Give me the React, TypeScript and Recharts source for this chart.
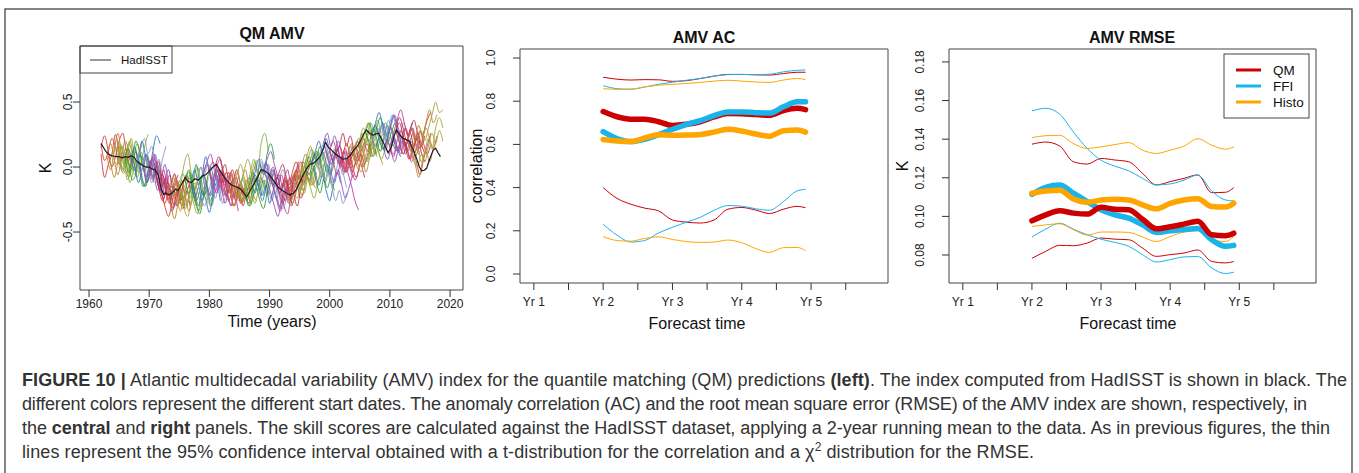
import { LineChart, Line, XAxis, YAxis, ReferenceArea } from 'recharts';

const FONT = "'Liberation Sans', Arial, Helvetica, sans-serif";

// ---- left panel: HadISST AMV index ----
const hadYears = [
  1962.0, 1962.4, 1962.8, 1963.2, 1963.6, 1964.0, 1964.5, 1965.0, 1965.5, 1966.0, 1966.5, 1967.0,
  1967.5, 1968.0, 1968.5, 1969.0, 1969.5, 1970.0, 1970.5, 1971.0, 1971.5, 1972.0, 1972.4, 1972.8,
  1973.2, 1973.8, 1974.4, 1974.8, 1975.4, 1976.0, 1976.4, 1977.0, 1977.6, 1978.2, 1978.8, 1979.4,
  1980.0, 1980.6, 1981.2, 1981.8, 1982.5, 1983.2, 1983.8, 1984.3, 1984.9, 1985.4, 1986.2, 1986.8,
  1987.4, 1988.0, 1988.6, 1989.2, 1989.8, 1990.3, 1990.9, 1991.5, 1992.1, 1992.8, 1993.4, 1994.0,
  1994.5, 1995.0, 1995.6, 1996.2, 1996.7, 1997.3, 1997.8, 1998.4, 1998.9, 1999.3, 1999.8, 2000.3,
  2000.9, 2001.6, 2002.2, 2002.8, 2003.4, 2004.0, 2004.6, 2005.2, 2005.7, 2006.1, 2006.6, 2007.2,
  2007.7, 2008.1, 2008.7, 2009.2, 2009.7, 2010.2, 2010.7, 2011.1, 2011.6, 2012.2, 2012.8, 2013.3,
  2013.9, 2014.4, 2014.9, 2015.3, 2015.7, 2016.1, 2016.6, 2017.2, 2017.6, 2018.0, 2018.4,
];
const hadValues = [
  0.18, 0.15, 0.12, 0.1, 0.09, 0.085, 0.08, 0.08, 0.07, 0.08, 0.075, 0.085,
  0.075, 0.04, 0.025, 0.01, 0.0, 0.0, -0.015, -0.02, -0.06, -0.17, -0.21, -0.2,
  -0.215, -0.2, -0.17, -0.18, -0.13, -0.08, -0.11, -0.12, -0.09, -0.1, -0.07, -0.06,
  -0.03, 0.0, 0.02, -0.03, -0.08, -0.12, -0.14, -0.15, -0.16, -0.18, -0.23, -0.18,
  -0.13, -0.08, -0.02, -0.03, -0.05, -0.08, -0.12, -0.16, -0.18, -0.2, -0.215, -0.2,
  -0.17, -0.12, -0.06, -0.01, 0.02, 0.03, 0.05, 0.08, 0.14, 0.19, 0.15, 0.13,
  0.1, 0.08, 0.06, 0.065, 0.09, 0.13, 0.16, 0.21, 0.26, 0.285, 0.26, 0.245,
  0.255, 0.26, 0.21, 0.16, 0.11, 0.15, 0.24, 0.285, 0.25, 0.22, 0.21, 0.195,
  0.13, 0.07, 0.0, -0.03, -0.025, -0.01, 0.06, 0.13, 0.145, 0.11, 0.08,
];

// QM predictions: one start date per year, three members, values every 0.6 yr of lead time
const startYears = [
  1962, 1963, 1964, 1965, 1966, 1967, 1968, 1969, 1970, 1971, 1972, 1973, 1974, 1975, 1976, 1977, 1978, 1979,
  1980, 1981, 1982, 1983, 1984, 1985, 1986, 1987, 1988, 1989, 1990, 1991, 1992, 1993, 1994, 1995, 1996, 1997,
  1998, 1999, 2000, 2001, 2002, 2003, 2004, 2005, 2006, 2007, 2008, 2009, 2010, 2011, 2012, 2013, 2014,
];
const leadYears = [0, 0.6, 1.2, 1.8, 2.4, 3.0, 3.6, 4.2, 4.8];
const memberA = [
  [0.18, 0.05, 0.12, 0.22, 0.15, 0.02, 0.08, 0.14, 0.05],
  [0.1, 0.18, 0.05, -0.06, 0.08, 0.2, 0.12, -0.02, 0.06],
  [0.08, 0.15, 0.0, -0.05, 0.1, 0.22, 0.06, -0.04, 0.08],
  [0.08, 0.0, 0.12, 0.2, 0.05, -0.08, 0.02, 0.15, 0.25],
  [0.08, 0.02, -0.1, -0.05, 0.1, 0.04, -0.12, -0.05, 0.06],
  [0.08, 0.15, 0.05, 0.2, 0.08, -0.02, 0.12, 0.24, 0.18],
  [0.04, -0.05, 0.08, 0.0, -0.12, -0.05, 0.06, -0.08, -0.2],
  [0.01, -0.08, 0.04, -0.06, -0.18, -0.1, 0.02, -0.12, -0.22],
  [-0.01, -0.1, 0.0, -0.15, -0.25, -0.12, -0.2, -0.3, -0.18],
  [-0.03, -0.12, -0.05, -0.2, -0.28, -0.15, -0.3, -0.22, -0.1],
  [-0.18, -0.1, -0.25, -0.18, -0.08, -0.22, -0.32, -0.2, -0.12],
  [-0.21, -0.3, -0.4, -0.28, -0.2, -0.32, -0.22, -0.12, -0.25],
  [-0.2, -0.1, -0.18, -0.32, -0.38, -0.25, -0.12, -0.22, -0.3],
  [-0.14, -0.22, -0.3, -0.18, -0.28, -0.36, -0.24, -0.15, -0.28],
  [-0.1, -0.2, -0.12, -0.26, -0.18, -0.05, -0.15, -0.3, -0.2],
  [-0.12, -0.2, -0.3, -0.18, -0.25, -0.35, -0.22, -0.12, -0.26],
  [-0.1, -0.18, -0.06, 0.02, -0.1, -0.24, -0.15, -0.28, -0.2],
  [-0.05, -0.14, -0.22, -0.12, -0.02, -0.16, -0.28, -0.18, -0.1],
  [-0.03, 0.04, -0.06, -0.16, -0.08, -0.2, -0.3, -0.18, -0.26],
  [0.02, -0.06, -0.15, -0.22, -0.12, -0.24, -0.16, -0.28, -0.18],
  [-0.06, -0.14, -0.04, -0.16, -0.26, -0.14, -0.22, -0.1, -0.18],
  [-0.12, -0.04, -0.14, -0.24, -0.1, -0.02, -0.14, -0.06, 0.05],
  [-0.15, -0.06, 0.02, -0.08, -0.18, -0.06, 0.04, -0.1, -0.02],
  [-0.17, -0.08, -0.18, -0.04, 0.06, -0.04, 0.18, 0.26, 0.12],
  [-0.22, -0.14, -0.04, -0.12, 0.02, -0.06, 0.1, 0.18, 0.06],
  [-0.13, -0.04, 0.06, -0.04, 0.04, -0.1, -0.02, -0.14, -0.22],
  [-0.03, -0.12, -0.04, -0.16, -0.26, -0.14, -0.3, -0.22, -0.12],
  [-0.03, -0.1, -0.2, -0.3, -0.38, -0.26, -0.16, -0.26, -0.12],
  [-0.06, -0.14, -0.06, -0.18, -0.3, -0.36, -0.22, -0.12, -0.02],
  [-0.12, -0.2, -0.28, -0.18, -0.08, -0.2, -0.3, -0.16, -0.04],
  [-0.18, -0.26, -0.16, -0.28, -0.18, -0.06, -0.14, -0.02, 0.06],
  [-0.21, -0.14, -0.04, -0.1, 0.02, 0.1, 0.02, 0.12, 0.04],
  [-0.17, -0.08, 0.02, -0.06, 0.06, 0.14, 0.06, -0.02, 0.08],
  [-0.12, -0.04, 0.06, 0.0, 0.1, 0.02, -0.08, 0.04, 0.12],
  [0.0, 0.08, -0.02, 0.06, 0.16, 0.06, -0.04, 0.06, 0.14],
  [0.04, -0.04, -0.14, -0.06, -0.18, -0.26, -0.14, -0.04, -0.12],
  [0.05, 0.14, 0.2, 0.1, 0.02, 0.12, 0.04, -0.06, 0.02],
  [0.19, 0.1, 0.02, 0.1, 0.2, 0.12, 0.02, 0.08, 0.16],
  [0.12, 0.2, 0.1, 0.0, 0.08, -0.04, -0.14, -0.26, -0.33],
  [0.1, 0.02, 0.1, 0.18, 0.08, 0.0, 0.08, 0.02, -0.08],
  [0.07, 0.14, 0.04, -0.04, 0.06, 0.14, 0.22, 0.12, 0.2],
  [0.09, 0.02, 0.12, 0.22, 0.14, 0.04, 0.12, 0.22, 0.28],
  [0.13, 0.2, 0.1, 0.18, 0.28, 0.2, 0.1, 0.18, 0.26],
  [0.21, 0.3, 0.22, 0.12, 0.2, 0.3, 0.2, 0.12, 0.22],
  [0.27, 0.34, 0.24, 0.3, 0.38, 0.28, 0.18, 0.26, 0.34],
  [0.25, 0.16, 0.24, 0.34, 0.26, 0.16, 0.24, 0.14, 0.08],
  [0.25, 0.18, 0.28, 0.36, 0.26, 0.18, 0.12, 0.22, 0.14],
  [0.13, 0.22, 0.32, 0.4, 0.3, 0.22, 0.3, 0.2, 0.12],
  [0.16, 0.26, 0.36, 0.44, 0.34, 0.24, 0.3, 0.2, 0.12],
  [0.28, 0.18, 0.1, 0.18, 0.26, 0.16, 0.24, 0.12, 0.04],
  [0.22, 0.14, 0.06, 0.14, 0.04, -0.06, 0.06, 0.16, 0.26],
  [0.2, 0.28, 0.18, 0.1, 0.2, 0.3, 0.22, 0.14, 0.24],
  [0.09, 0.18, 0.28, 0.2, 0.3, 0.4, 0.5, 0.42, 0.44],
];
const memberB = [
  [0.1, -0.08, 0.02, 0.1, 0.25, 0.12, -0.02, 0.04, 0.1],
  [0.08, -0.02, 0.14, 0.26, 0.1, 0.0, -0.08, 0.05, 0.15],
  [0.09, 0.02, 0.18, 0.05, -0.1, 0.02, 0.15, 0.04, -0.06],
  [0.07, 0.16, 0.03, -0.12, -0.02, 0.08, -0.05, -0.15, -0.02],
  [0.09, 0.14, 0.04, 0.12, -0.02, -0.15, -0.08, 0.05, -0.04],
  [0.07, -0.03, 0.06, -0.08, -0.15, -0.04, 0.05, -0.1, -0.18],
  [0.05, 0.12, 0.02, -0.1, -0.02, 0.1, -0.04, -0.15, -0.1],
  [0.0, 0.08, -0.04, 0.02, -0.1, -0.2, -0.12, -0.02, -0.16],
  [0.0, 0.06, -0.06, -0.18, -0.08, -0.22, -0.14, -0.05, -0.2],
  [-0.02, 0.04, -0.14, -0.08, -0.22, -0.32, -0.18, -0.26, -0.14],
  [-0.17, -0.28, -0.2, -0.34, -0.24, -0.14, -0.26, -0.18, -0.3],
  [-0.2, -0.12, -0.22, -0.15, -0.3, -0.18, -0.08, -0.2, -0.3],
  [-0.19, -0.28, -0.15, 0.02, 0.1, -0.05, -0.18, -0.1, -0.22],
  [-0.12, -0.05, -0.15, -0.24, -0.1, 0.0, -0.12, -0.22, -0.08],
  [-0.11, -0.02, -0.1, 0.02, -0.12, -0.22, -0.1, 0.0, -0.14],
  [-0.11, -0.02, -0.14, -0.06, 0.08, -0.04, -0.16, -0.06, -0.18],
  [-0.09, 0.0, -0.12, -0.22, -0.3, -0.18, -0.08, -0.2, -0.1],
  [-0.06, 0.02, -0.08, -0.2, -0.14, -0.04, -0.12, -0.25, -0.3],
  [-0.02, -0.12, -0.2, -0.1, -0.22, -0.14, -0.04, -0.18, -0.34],
  [0.01, 0.08, -0.02, -0.1, -0.2, -0.1, -0.02, -0.14, -0.24],
  [-0.07, 0.02, -0.08, -0.02, -0.12, -0.24, -0.16, -0.26, -0.14],
  [-0.13, -0.2, -0.1, -0.18, -0.28, -0.16, -0.22, -0.08, -0.16],
  [-0.16, -0.24, -0.14, -0.22, -0.12, -0.2, -0.28, -0.16, -0.08],
  [-0.18, -0.26, -0.16, -0.24, -0.12, -0.18, -0.08, -0.16, -0.04],
  [-0.21, -0.28, -0.18, -0.08, -0.18, -0.1, -0.22, -0.12, -0.02],
  [-0.12, -0.2, -0.1, -0.22, -0.14, -0.28, -0.18, -0.08, -0.16],
  [-0.04, 0.04, -0.06, 0.02, -0.1, -0.2, -0.1, -0.02, -0.14],
  [-0.04, 0.02, -0.1, -0.04, -0.14, -0.06, -0.18, -0.28, -0.2],
  [-0.07, 0.0, -0.12, -0.2, -0.1, -0.02, -0.14, -0.06, 0.04],
  [-0.13, -0.06, -0.16, -0.1, -0.22, -0.12, -0.02, 0.04, -0.06],
  [-0.17, -0.1, -0.2, -0.12, -0.02, -0.1, 0.04, -0.06, -0.14],
  [-0.2, -0.26, -0.16, -0.06, -0.14, -0.02, -0.12, -0.04, 0.06],
  [-0.18, -0.24, -0.14, -0.2, -0.08, -0.14, -0.02, 0.06, -0.04],
  [-0.11, -0.18, -0.08, -0.16, -0.24, -0.14, -0.04, -0.12, -0.02],
  [-0.01, -0.1, -0.02, -0.12, -0.2, -0.08, 0.02, -0.1, -0.18],
  [0.03, 0.1, 0.02, 0.12, 0.04, -0.06, 0.06, 0.14, 0.04],
  [0.06, -0.02, -0.1, 0.0, -0.12, -0.04, 0.06, -0.04, -0.16],
  [0.18, 0.08, -0.04, -0.12, -0.02, -0.14, -0.24, -0.16, -0.06],
  [0.13, 0.04, -0.06, 0.04, 0.12, 0.02, 0.08, 0.16, 0.06],
  [0.09, 0.16, 0.06, -0.04, 0.04, 0.12, 0.2, 0.1, 0.02],
  [0.06, -0.02, 0.08, 0.0, -0.08, 0.02, 0.1, 0.18, 0.08],
  [0.08, 0.16, 0.06, -0.02, 0.08, -0.04, 0.06, 0.16, 0.1],
  [0.12, 0.04, -0.04, 0.06, 0.14, 0.08, 0.18, 0.1, 0.02],
  [0.2, 0.12, 0.04, 0.14, 0.24, 0.14, 0.06, 0.14, 0.24],
  [0.26, 0.18, 0.08, 0.16, 0.24, 0.14, 0.22, 0.3, 0.18],
  [0.24, 0.32, 0.22, 0.14, 0.2, 0.3, 0.4, 0.3, 0.2],
  [0.24, 0.3, 0.2, 0.1, 0.18, 0.28, 0.2, 0.1, 0.16],
  [0.14, 0.06, 0.14, 0.22, 0.12, 0.2, 0.1, 0.18, 0.26],
  [0.15, 0.08, 0.16, 0.1, 0.2, 0.12, 0.04, 0.12, 0.2],
  [0.27, 0.34, 0.24, 0.14, 0.06, 0.16, 0.26, 0.18, 0.1],
  [0.23, 0.3, 0.2, 0.12, 0.22, 0.14, 0.26, 0.36, 0.42],
  [0.19, 0.1, 0.02, -0.08, 0.04, 0.12, 0.04, 0.14, 0.22],
  [0.08, 0.0, 0.1, 0.04, 0.16, 0.26, 0.18, 0.28, 0.2],
];
const memberC = [
  [0.15, 0.24, 0.12, 0.0, 0.08, 0.2, 0.26, 0.12, 0.0],
  [0.11, 0.02, -0.08, 0.04, 0.16, 0.06, 0.18, 0.1, -0.04],
  [0.08, 0.2, 0.1, 0.02, 0.14, 0.04, -0.06, 0.1, 0.2],
  [0.08, -0.04, 0.06, -0.06, 0.08, 0.18, 0.08, -0.04, 0.08],
  [0.07, -0.04, 0.08, 0.2, 0.12, 0.0, 0.1, 0.0, -0.12],
  [0.09, 0.0, -0.12, -0.02, 0.1, 0.02, -0.08, 0.04, -0.06],
  [0.03, 0.14, 0.22, 0.1, 0.16, 0.04, -0.06, 0.06, 0.16],
  [0.01, -0.12, -0.02, 0.1, 0.0, -0.08, -0.22, -0.14, -0.26],
  [-0.02, 0.08, 0.02, -0.1, -0.02, -0.16, -0.24, -0.14, -0.06],
  [-0.03, -0.16, -0.26, -0.16, -0.06, -0.18, -0.1, -0.2, -0.32],
  [-0.19, -0.3, -0.38, -0.28, -0.16, -0.28, -0.14, -0.06, -0.18],
  [-0.21, -0.16, -0.06, -0.18, -0.1, -0.22, -0.34, -0.24, -0.14],
  [-0.19, -0.24, -0.34, -0.22, -0.28, -0.16, -0.24, -0.34, -0.24],
  [-0.13, -0.24, -0.14, -0.06, -0.18, -0.1, 0.0, -0.14, -0.2],
  [-0.1, -0.04, -0.18, -0.28, -0.36, -0.24, -0.18, -0.26, -0.12],
  [-0.12, -0.24, -0.16, -0.26, -0.12, -0.22, -0.1, -0.02, -0.12],
  [-0.1, -0.22, -0.3, -0.2, -0.1, -0.04, -0.16, -0.06, -0.16],
  [-0.05, 0.04, 0.1, -0.02, -0.12, -0.02, -0.1, -0.2, -0.14],
  [-0.03, -0.1, 0.0, 0.06, -0.06, -0.14, -0.06, -0.16, -0.08],
  [0.02, -0.02, -0.12, -0.04, -0.16, -0.3, -0.22, -0.12, -0.22],
  [-0.06, -0.18, -0.26, -0.18, -0.08, -0.18, -0.3, -0.2, -0.28],
  [-0.12, -0.22, -0.3, -0.2, -0.28, -0.18, -0.08, -0.2, -0.26],
  [-0.15, -0.04, -0.12, -0.02, 0.06, -0.04, -0.14, -0.04, -0.12],
  [-0.17, -0.1, -0.24, -0.3, -0.2, -0.12, -0.22, -0.1, -0.2],
  [-0.22, -0.3, -0.24, -0.16, -0.26, -0.32, -0.2, -0.08, -0.16],
  [-0.13, -0.06, -0.16, -0.26, -0.16, -0.06, -0.14, -0.24, -0.32],
  [-0.03, 0.06, -0.02, -0.1, -0.02, -0.12, -0.22, -0.32, -0.24],
  [-0.03, 0.06, 0.12, 0.02, -0.08, -0.18, -0.1, -0.2, -0.3],
  [-0.06, -0.16, -0.26, -0.34, -0.22, -0.14, -0.24, -0.16, -0.06],
  [-0.12, -0.04, 0.02, -0.08, -0.16, -0.06, -0.14, -0.24, -0.16],
  [-0.18, -0.08, -0.14, -0.04, 0.04, -0.04, -0.12, -0.06, 0.04],
  [-0.21, -0.3, -0.24, -0.14, -0.22, -0.12, -0.04, -0.14, -0.04],
  [-0.17, -0.1, -0.18, -0.08, 0.02, -0.06, -0.16, -0.08, 0.02],
  [-0.12, -0.02, 0.08, 0.16, 0.06, 0.12, 0.04, 0.12, 0.04],
  [0.0, -0.06, 0.04, 0.12, 0.04, -0.06, -0.16, -0.06, 0.04],
  [0.04, 0.12, 0.2, 0.12, 0.22, 0.12, 0.04, 0.1, 0.0],
  [0.05, -0.06, 0.04, -0.06, -0.16, -0.26, -0.18, -0.28, -0.2],
  [0.19, 0.26, 0.16, 0.24, 0.14, 0.04, 0.12, 0.02, -0.08],
  [0.12, 0.04, 0.14, 0.06, -0.04, 0.06, 0.0, -0.1, -0.02],
  [0.1, 0.16, 0.26, 0.16, 0.24, 0.14, 0.04, 0.12, 0.2],
  [0.07, -0.04, 0.04, 0.12, 0.02, 0.1, 0.0, 0.08, 0.18],
  [0.09, 0.18, 0.08, 0.16, 0.26, 0.18, 0.28, 0.18, 0.08],
  [0.13, 0.06, 0.16, 0.26, 0.34, 0.24, 0.32, 0.22, 0.14],
  [0.21, 0.14, 0.24, 0.34, 0.28, 0.36, 0.26, 0.34, 0.26],
  [0.27, 0.2, 0.3, 0.22, 0.12, 0.22, 0.32, 0.22, 0.14],
  [0.25, 0.34, 0.42, 0.32, 0.24, 0.32, 0.22, 0.12, 0.2],
  [0.25, 0.32, 0.22, 0.3, 0.4, 0.32, 0.24, 0.34, 0.26],
  [0.13, 0.2, 0.12, 0.04, 0.14, 0.24, 0.16, 0.26, 0.34],
  [0.16, 0.1, 0.2, 0.28, 0.2, 0.12, 0.2, 0.08, 0.16],
  [0.28, 0.38, 0.3, 0.2, 0.3, 0.36, 0.26, 0.16, 0.24],
  [0.22, 0.16, 0.24, 0.3, 0.2, 0.28, 0.18, 0.1, 0.18],
  [0.2, 0.12, 0.22, 0.32, 0.24, 0.34, 0.44, 0.34, 0.4],
  [0.09, 0.14, 0.04, 0.12, 0.22, 0.14, 0.3, 0.38, 0.3],
];
// colour cycles with the start date
const startPalette = [
  '#d23c3c', '#b9852f', '#a9a23d', '#84b43c', '#2f9e35',
  '#3372b8', '#8d97c9', '#9253ba', '#c23b98', '#c2304f',
];
const yearTicks = [1960, 1970, 1980, 1990, 2000, 2010, 2020];
const kTicks = [-0.5, 0, 0.5];

// ---- centre / right panels: skill vs forecast time ----
const forecastTicks = [1, 1.5, 2, 2.5, 3, 3.5, 4, 4.5, 5, 5.5];
const leadTimes = [2.0, 2.2, 2.4, 2.6, 2.8, 3.0, 3.2, 3.4, 3.6, 3.8, 4.0, 4.2, 4.4, 4.6, 4.8, 4.92];

const acQM = [0.752, 0.728, 0.717, 0.717, 0.705, 0.688, 0.693, 0.705, 0.727, 0.743, 0.742, 0.738, 0.735, 0.757, 0.767, 0.761];
const acFFI = [0.659, 0.627, 0.613, 0.624, 0.645, 0.67, 0.692, 0.71, 0.733, 0.75, 0.75, 0.747, 0.745, 0.774, 0.797, 0.798];
const acHisto = [0.623, 0.616, 0.613, 0.63, 0.645, 0.642, 0.643, 0.646, 0.657, 0.67, 0.662, 0.648, 0.638, 0.663, 0.667, 0.657];
const acQMHi = [0.911, 0.902, 0.898, 0.9, 0.899, 0.892, 0.895, 0.905, 0.916, 0.924, 0.924, 0.922, 0.921, 0.928, 0.934, 0.934];
const acFFIHi = [0.872, 0.858, 0.855, 0.866, 0.878, 0.888, 0.897, 0.905, 0.916, 0.923, 0.924, 0.923, 0.925, 0.936, 0.943, 0.945];
const acHistoHi = [0.858, 0.855, 0.856, 0.866, 0.874, 0.878, 0.882, 0.887, 0.893, 0.897, 0.893, 0.889, 0.887, 0.898, 0.905, 0.9];
const acQMLo = [0.4, 0.35, 0.323, 0.305, 0.292, 0.25, 0.24, 0.236, 0.25, 0.3, 0.308, 0.296, 0.28, 0.3, 0.313, 0.307];
const acFFILo = [0.23, 0.18, 0.148, 0.155, 0.19, 0.216, 0.24, 0.262, 0.295, 0.317, 0.314, 0.302, 0.295, 0.335, 0.385, 0.392];
const acHistoLo = [0.173, 0.155, 0.152, 0.165, 0.172, 0.16, 0.15, 0.146, 0.148, 0.157, 0.145, 0.118, 0.1, 0.122, 0.123, 0.108];
const acTicks = [0, 0.2, 0.4, 0.6, 0.8, 1.0];

const rmseQM = [0.0977, 0.1008, 0.1029, 0.1017, 0.1012, 0.1047, 0.1037, 0.1034, 0.0985, 0.0936, 0.0946, 0.096, 0.0975, 0.0905, 0.09, 0.0913];
const rmseFFI = [0.1114, 0.115, 0.1162, 0.112, 0.1077, 0.1034, 0.1008, 0.0991, 0.0956, 0.0917, 0.0925, 0.0932, 0.0937, 0.0879, 0.0845, 0.085];
const rmseHisto = [0.112, 0.1132, 0.1135, 0.109, 0.1073, 0.1085, 0.1089, 0.1085, 0.106, 0.1039, 0.1068, 0.1085, 0.1092, 0.1051, 0.1048, 0.1068];
const rmseQMHi = [0.1374, 0.1385, 0.1365, 0.1283, 0.1271, 0.13, 0.1292, 0.1283, 0.1223, 0.1163, 0.118, 0.1197, 0.1215, 0.1123, 0.1125, 0.1149];
const rmseFFIHi = [0.1546, 0.156, 0.153, 0.1437, 0.1352, 0.1291, 0.126, 0.1236, 0.1197, 0.1163, 0.1168, 0.1188, 0.1214, 0.1132, 0.1085, 0.108];
const rmseHistoHi = [0.1408, 0.1418, 0.142, 0.1377, 0.1352, 0.136, 0.1372, 0.1382, 0.1343, 0.1326, 0.1343, 0.1364, 0.1402, 0.1369, 0.1348, 0.136];
const rmseQMLo = [0.0783, 0.0819, 0.085, 0.0848, 0.0862, 0.0888, 0.0882, 0.0879, 0.0836, 0.0793, 0.0802, 0.081, 0.0826, 0.0767, 0.0759, 0.0766];
const rmseFFILo = [0.0893, 0.0934, 0.0965, 0.0934, 0.0905, 0.0882, 0.0865, 0.0845, 0.0802, 0.0764, 0.0776, 0.079, 0.0792, 0.0733, 0.0704, 0.0711];
const rmseHistoLo = [0.0948, 0.0956, 0.0962, 0.0931, 0.0903, 0.0919, 0.0919, 0.0917, 0.0893, 0.087, 0.0896, 0.0919, 0.0926, 0.0879, 0.087, 0.0896];
const rmseTicks = [0.08, 0.1, 0.12, 0.14, 0.16, 0.18];

const methods = ['QM', 'FFI', 'Histo'];
const methodColors: Record<string, string> = { QM: '#cc0000', FFI: '#18b4ea', Histo: '#ffa500' };

const LEFT_X = [1958.5, 2022.15];
const LEFT_Y = [-0.946, 0.931];
const FC_X = [0.8, 6.11];
const AC_Y = [-0.0417, 1.0417];
const RMSE_Y = [0.0655, 0.1867];

const hadData = hadYears.map((t, i) => ({ t, v: hadValues[i] }));
const forecastRuns = startYears.flatMap((s, i) =>
  [memberA[i], memberB[i], memberC[i]].map((vals, m) => ({
    key: `${s}-${m}`,
    color: startPalette[i % startPalette.length],
    data: leadYears.map((l, j) => ({ t: s + l, v: vals[j] })),
  }))
);

const acData = leadTimes.map((t, i) => ({
  t,
  QM: acQM[i], FFI: acFFI[i], Histo: acHisto[i],
  QMHi: acQMHi[i], FFIHi: acFFIHi[i], HistoHi: acHistoHi[i],
  QMLo: acQMLo[i], FFILo: acFFILo[i], HistoLo: acHistoLo[i],
}));
const rmseData = leadTimes.map((t, i) => ({
  t,
  QM: rmseQM[i], FFI: rmseFFI[i], Histo: rmseHisto[i],
  QMHi: rmseQMHi[i], FFIHi: rmseFFIHi[i], HistoHi: rmseHistoHi[i],
  QMLo: rmseQMLo[i], FFILo: rmseFFILo[i], HistoLo: rmseHistoLo[i],
}));

const yTick = (dx: number, fmt: (v: number) => string) => (props: any) => {
  const { x, y, payload } = props;
  return (
    <text transform={`translate(${x + dx},${y}) rotate(-90)`} textAnchor="middle"
      fontSize={12} fontFamily={FONT} fill="#222">
      {fmt(payload.value)}
    </text>
  );
};
const xTick = (dy: number, fmt: (v: number) => string) => (props: any) => {
  const { x, y, payload } = props;
  const label = fmt(payload.value);
  if (!label) return <g />;
  return (
    <text x={x} y={y + dy} textAnchor="middle" fontSize={12} fontFamily={FONT} fill="#222">
      {label}
    </text>
  );
};
const yrLabel = (v: number) => (Number.isInteger(v) ? `Yr ${v}` : '');

function SkillChart({ data, yDomain, yTicks, fmt, order, left }: any) {
  return (
    <div style={{ position: 'absolute', left, top: 0 }}>
      <LineChart width={440} height={340} data={data}
        margin={{ top: 49, right: left === 460 ? 12 : 24, bottom: 17, left: left === 460 ? 20 : 9 }}>
        <XAxis dataKey="t" type="number" domain={FC_X} ticks={forecastTicks} allowDataOverflow
          interval={0} height={40} tickSize={7} tickMargin={0} axisLine={false}
          tickLine={{ stroke: '#333' }} tick={xTick(16, yrLabel)} />
        <YAxis type="number" domain={yDomain} ticks={yTicks} allowDataOverflow interval={0}
          width={40} tickSize={7} tickMargin={0} axisLine={false}
          tickLine={{ stroke: '#333' }} tick={yTick(-18, fmt)} />
        <ReferenceArea x1={FC_X[0]} x2={FC_X[1]} y1={yDomain[0]} y2={yDomain[1]}
          fill="none" fillOpacity={0} stroke="#444" strokeWidth={1} ifOverflow="visible" />
        {methods.map((m) => (
          <Line key={m + 'Hi'} dataKey={m + 'Hi'} type="monotone" stroke={methodColors[m]}
            strokeWidth={1} dot={false} activeDot={false} isAnimationActive={false} />
        ))}
        {methods.map((m) => (
          <Line key={m + 'Lo'} dataKey={m + 'Lo'} type="monotone" stroke={methodColors[m]}
            strokeWidth={1} dot={false} activeDot={false} isAnimationActive={false} />
        ))}
        {order.map((m: string) => (
          <Line key={m} dataKey={m} type="monotone" stroke={methodColors[m]} strokeWidth={5.5}
            strokeLinecap="round" dot={false} activeDot={false} isAnimationActive={false} />
        ))}
      </LineChart>
    </div>
  );
}

export default function App() {
  const txt = { fontFamily: FONT, fill: '#111' };
  const cap = { fontFamily: FONT, fontSize: 18, fill: '#333', lengthAdjust: 'spacing' as const };
  return (
    <div style={{ position: 'absolute', left: 0, top: 0, width: 1359, height: 473, background: '#fff', overflow: 'hidden' }}>
      {/* left: QM AMV spaghetti */}
      <div style={{ position: 'absolute', left: 0, top: 0 }}>
        <LineChart width={470} height={340} margin={{ top: 46, right: 7, bottom: 10, left: 40 }}>
          <XAxis dataKey="t" type="number" domain={LEFT_X} ticks={yearTicks} allowDataOverflow
            interval={0} height={40} tickSize={7} tickMargin={0} axisLine={false}
            tickLine={{ stroke: '#333' }} tick={xTick(11, (v) => String(v))} />
          <YAxis type="number" domain={LEFT_Y} ticks={kTicks} allowDataOverflow interval={0}
            width={40} tickSize={7} tickMargin={0} axisLine={false}
            tickLine={{ stroke: '#333' }} tick={yTick(-1, (v) => (v === 0 ? '0.0' : String(v)))} />
          <ReferenceArea x1={LEFT_X[0]} x2={LEFT_X[1]} y1={LEFT_Y[0]} y2={LEFT_Y[1]}
            fill="none" fillOpacity={0} stroke="#444" strokeWidth={1} ifOverflow="visible" />
          {forecastRuns.map((r) => (
            <Line key={r.key} data={r.data} dataKey="v" type="monotone" stroke={r.color}
              strokeWidth={1} strokeOpacity={0.9} dot={false} activeDot={false} isAnimationActive={false} />
          ))}
          <Line data={hadData} dataKey="v" type="linear" stroke="#1a1a1a" strokeWidth={1.2}
            dot={false} activeDot={false} isAnimationActive={false} />
        </LineChart>
      </div>

      <SkillChart data={acData} yDomain={AC_Y} yTicks={acTicks} fmt={(v: number) => v.toFixed(1)}
        order={['QM', 'FFI', 'Histo']} left={460} />
      <SkillChart data={rmseData} yDomain={RMSE_Y} yTicks={rmseTicks} fmt={(v: number) => v.toFixed(2)}
        order={['FFI', 'Histo', 'QM']} left={900} />

      <svg width={1359} height={473} style={{ position: 'absolute', left: 0, top: 0, pointerEvents: 'none' }}>
        <rect x={5} y={9} width={1347} height={480} fill="none" stroke="#444" strokeWidth={1.3} />
        <g {...txt} fontWeight="bold" fontSize={16} textAnchor="middle">
          <text x={272} y={38.5}>QM AMV</text>
          <text x={704} y={42.5}>AMV AC</text>
          <text x={1132} y={42.5}>AMV RMSE</text>
        </g>
        <g {...txt} fontSize={16} textAnchor="middle">
          <text x={272} y={327}>Time (years)</text>
          <text x={697} y={328.5}>Forecast time</text>
          <text x={1128} y={328.5}>Forecast time</text>
          <text transform="translate(51,168) rotate(-90)">K</text>
          <text transform="translate(481.5,166) rotate(-90)">correlation</text>
          <text transform="translate(908,166) rotate(-90)">K</text>
        </g>
        {/* HadISST legend */}
        <rect x={80} y={46} width={92} height={27} fill="none" stroke="#444" strokeWidth={1} />
        <line x1={90} x2={111} y1={60} y2={60} stroke="#333" strokeWidth={1} />
        <text x={121} y={64} fontSize={11.5} {...txt}>HadISST</text>
        {/* method legend */}
        <rect x={1224} y={54} width={85} height={64} fill="#fff" stroke="#444" strokeWidth={1} />
        {methods.map((m, i) => (
          <g key={m}>
            <line x1={1236} x2={1261} y1={70 + i * 16} y2={70 + i * 16} stroke={methodColors[m]} strokeWidth={3} />
            <text x={1273} y={75 + i * 16} fontSize={13.5} {...txt}>{m}</text>
          </g>
        ))}

        {/* caption */}
        <text x={22} y={386} textLength={1325} {...cap}>
          <tspan fontWeight="bold">FIGURE 10 |</tspan> Atlantic multidecadal variability (AMV) index for the quantile matching (QM) predictions <tspan fontWeight="bold">(left)</tspan>. The index computed from HadISST is shown in black. The
        </text>
        <text x={22} y={410} textLength={1285} {...cap}>
          different colors represent the different start dates. The anomaly correlation (AC) and the root mean square error (RMSE) of the AMV index are shown, respectively, in
        </text>
        <text x={22} y={434} textLength={1308} {...cap}>
          the <tspan fontWeight="bold">central</tspan> and <tspan fontWeight="bold">right</tspan> panels. The skill scores are calculated against the HadISST dataset, applying a 2-year running mean to the data. As in previous figures, the thin
        </text>
        <text x={22} y={458} textLength={1012} {...cap}>
          lines represent the 95% confidence interval obtained with a t-distribution for the correlation and a χ<tspan dy={-7} fontSize={12}>2</tspan><tspan dy={7}> distribution for the RMSE.</tspan>
        </text>
      </svg>
    </div>
  );
}
